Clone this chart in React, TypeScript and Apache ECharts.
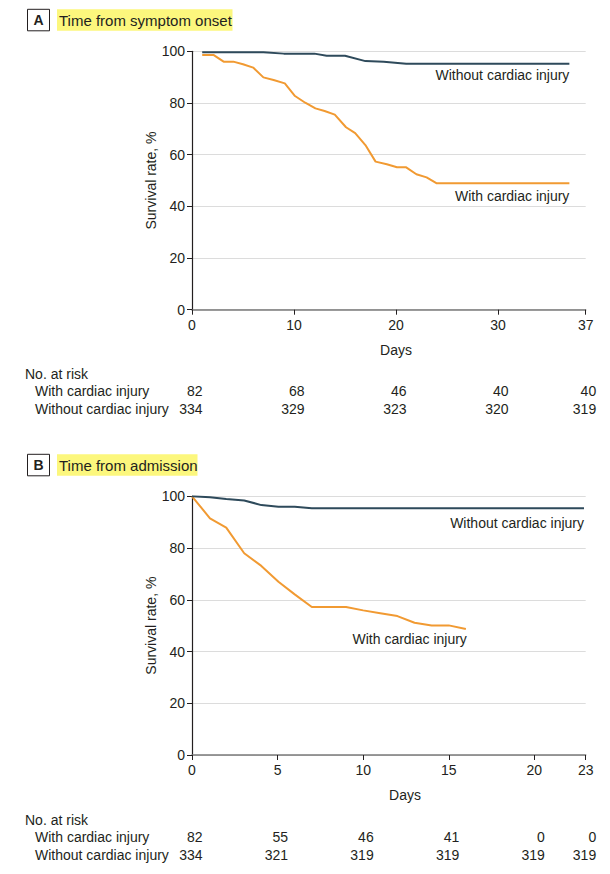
import React, { useEffect, useRef } from "react";
import * as echarts from "echarts";

// ---------- Panel A: time from symptom onset ----------
const onsetWithoutDays = [1, 7, 9, 12, 13.2, 15, 17, 18.8, 21, 37];
const onsetWithoutSurv = [99.6, 99.6, 99.1, 99.1, 98.3, 98.3, 96.2, 96.0, 95.2, 95.2];
const onsetWithDays = [1, 2.1, 3.1, 4.05, 5, 6, 7, 8, 9.1, 10.1, 11.1, 12.1, 13, 14, 15.1, 16, 17, 18, 19.1, 20.1, 21, 22, 23, 24, 37];
const onsetWithSurv = [98.6, 98.6, 96.0, 96.0, 95.0, 93.7, 89.9, 88.9, 87.6, 82.7, 80.1, 77.9, 76.9, 75.5, 70.6, 68.3, 63.7, 57.3, 56.3, 55.1, 55.1, 52.4, 51.2, 48.9, 48.9];
const onsetAxisMax = 38.6; // the reference's last tick (labelled 37) sits beyond day 37
const onsetMaxLabel = "37";
const onsetRiskTicks = [0, 10, 20, 30, onsetAxisMax];
const onsetRiskWith = ["82", "68", "46", "40", "40"];
const onsetRiskWithout = ["334", "329", "323", "320", "319"];

// ---------- Panel B: time from admission ----------
const admWithoutDays = [0, 1.05, 2, 3.05, 4.05, 5.05, 6, 7, 22.9];
const admWithoutSurv = [100, 99.6, 99.0, 98.4, 96.6, 96.0, 96.0, 95.4, 95.4];
const admWithDays = [0, 1.05, 2, 3.05, 4.05, 5.05, 6, 7, 9, 10, 11, 12, 13, 14, 15, 16];
const admWithSurv = [100, 91.5, 87.9, 78.0, 73.1, 67.0, 62.1, 57.2, 57.2, 55.9, 54.8, 53.7, 51.1, 50.1, 50.1, 48.7];
const admAxisMax = 23;
const admRiskTicks = [0, 5, 10, 15, 20, 23];
const admRiskWith = ["82", "55", "46", "41", "0", "0"];
const admRiskWithout = ["334", "321", "319", "319", "319", "319"];

const yTicks = { min: 0, max: 100, interval: 20 };
const yName = "Survival rate, %";
const xName = "Days";
const withLabel = "With cardiac injury";
const withoutLabel = "Without cardiac injury";
const riskTitle = "No. at risk";
const titleA = "Time from symptom onset";
const titleB = "Time from admission";

const FONT = "'Liberation Sans', Arial, sans-serif";
const TEXT = "#231f20";
const DARK = "#2e4a5b";
const ORANGE = "#f19a32";
const YELLOW = "#fcf77d";

const zip = (xs: number[], ys: number[]) => xs.map((x, i) => [x, ys[i]]);

export default function App() {
  const ref = useRef<HTMLDivElement>(null);
  useEffect(() => {
    const chart = echarts.init(ref.current!, null, { renderer: "svg" });

    const xAxis = (gridIndex: number, max: number, interval: number, fmt: (v: number) => string) => ({
      type: "value",
      gridIndex,
      min: 0,
      max,
      interval,
      axisLine: { show: true, lineStyle: { color: "#7a7a7a", width: 1.5 } },
      axisTick: { show: true, length: 5, lineStyle: { color: TEXT } },
      axisLabel: {
        show: true,
        color: TEXT,
        fontFamily: FONT,
        fontSize: 14,
        margin: 8,
        showMaxLabel: true,
        showMinLabel: true,
        formatter: fmt,
      },
      splitLine: { show: false },
    });
    const yAxis = (gridIndex: number) => ({
      type: "value",
      gridIndex,
      min: yTicks.min,
      max: yTicks.max,
      interval: yTicks.interval,
      name: yName,
      nameLocation: "middle",
      nameRotate: 90,
      nameGap: 34,
      nameMoveOverlap: false,
      nameTextStyle: { color: TEXT, fontFamily: FONT, fontSize: 14 },
      axisLine: { show: true, lineStyle: { color: TEXT, width: 1.2 } },
      axisTick: { show: true, length: 5, lineStyle: { color: TEXT } },
      axisLabel: { color: TEXT, fontFamily: FONT, fontSize: 14, margin: 7 },
      splitLine: { show: true, lineStyle: { color: "#dcdcdc", width: 1 } },
    });
    const line = (name: string, xi: number, data: number[][], color: string) => ({
      type: "line",
      name,
      xAxisIndex: xi,
      yAxisIndex: xi,
      data,
      showSymbol: false,
      symbol: "none",
      smooth: false,
      lineStyle: { color, width: 2 },
      itemStyle: { color },
      z: color === DARK ? 3 : 2,
    });

    chart.setOption({
      animation: false,
      backgroundColor: "#ffffff",
      textStyle: { fontFamily: FONT },
      grid: [
        { left: 192, top: 51.3, width: 393.7, height: 258.4, containLabel: false },
        { left: 192, top: 496.3, width: 393.7, height: 258.7, containLabel: false },
      ],
      xAxis: [
        xAxis(0, onsetAxisMax, 10, (v: number) => (v > onsetAxisMax - 0.01 ? onsetMaxLabel : String(v))),
        xAxis(1, admAxisMax, 5, (v: number) => String(v)),
      ],
      yAxis: [yAxis(0), yAxis(1)],
      series: [
        line(withLabel + " A", 0, zip(onsetWithDays, onsetWithSurv), ORANGE),
        line(withoutLabel + " A", 0, zip(onsetWithoutDays, onsetWithoutSurv), DARK),
        line(withLabel + " B", 1, zip(admWithDays, admWithSurv), ORANGE),
        line(withoutLabel + " B", 1, zip(admWithoutDays, admWithoutSurv), DARK),
      ],
    });

    const px = (g: number, x: number, y: number) => chart.convertToPixel({ gridIndex: g } as any, [x, y]) as number[];
    const txt = (text: string, x: number, y: number, opts: any = {}) => ({
      type: "text",
      silent: true,
      style: {
        text,
        x,
        y,
        fill: TEXT,
        font: `${opts.bold ? "bold " : ""}${opts.size || 14}px ${FONT}`,
        textAlign: opts.align || "left",
        textVerticalAlign: "middle",
      },
      z: 10,
    });
    const els: any[] = [];

    const header = (label: string, title: string, top: number, hlRight: number) => {
      els.push({
        type: "rect",
        shape: { x: 27.5, y: top, width: 22, height: 21.5 },
        style: { fill: "#ffffff", stroke: TEXT, lineWidth: 1 },
        z: 9,
      });
      els.push(txt(label, 38.5, top + 11, { bold: true, align: "center", size: 14 }));
      els.push({
        type: "rect",
        shape: { x: 57, y: top, width: hlRight - 57, height: 21.5 },
        style: { fill: YELLOW },
        z: 9,
      });
      els.push(txt(title, 59, top + 11, { size: 15 }));
    };
    header("A", titleA, 9.3, 232.5);
    header("B", titleB, 454.3, 197.5);

    // end-of-curve labels
    const endA1 = px(0, onsetWithoutDays[onsetWithoutDays.length - 1], onsetWithoutSurv[onsetWithoutSurv.length - 1]);
    els.push(txt(withoutLabel, endA1[0], endA1[1] + 11.5, { align: "right" }));
    const endA2 = px(0, onsetWithDays[onsetWithDays.length - 1], onsetWithSurv[onsetWithSurv.length - 1]);
    els.push(txt(withLabel, endA2[0], endA2[1] + 12.5, { align: "right" }));
    const endB1 = px(1, admWithoutDays[admWithoutDays.length - 1], admWithoutSurv[admWithoutSurv.length - 1]);
    els.push(txt(withoutLabel, endB1[0], endB1[1] + 15, { align: "right" }));
    const endB2 = px(1, admWithDays[admWithDays.length - 1], admWithSurv[admWithSurv.length - 1]);
    els.push(txt(withLabel, endB2[0] + 1, endB2[1] + 10, { align: "right" }));

    // axis titles "Days"
    els.push(txt(xName, 396, 350, { align: "center" }));
    els.push(txt(xName, 405, 795, { align: "center" }));

    // number at risk tables
    const table = (g: number, ticks: number[], rowWith: string[], rowWithout: string[], yTitle: number, yWith: number, yWithout: number) => {
      els.push(txt(riskTitle, 25, yTitle));
      els.push(txt(withLabel, 35, yWith));
      els.push(txt(withoutLabel, 35, yWithout));
      ticks.forEach((t, i) => {
        const x = px(g, t, 0)[0] + 10.5;
        els.push(txt(rowWith[i], x, yWith, { align: "right" }));
        els.push(txt(rowWithout[i], x, yWithout, { align: "right" }));
      });
    };
    table(0, onsetRiskTicks, onsetRiskWith, onsetRiskWithout, 374, 391, 408.5);
    table(1, admRiskTicks, admRiskWith, admRiskWithout, 819.5, 837, 854.5);

    chart.setOption({ graphic: els });

    return () => chart.dispose();
  }, []);
  return <div ref={ref} style={{ position: "fixed", left: 0, top: 0, width: 610, height: 874 }} />;
}
